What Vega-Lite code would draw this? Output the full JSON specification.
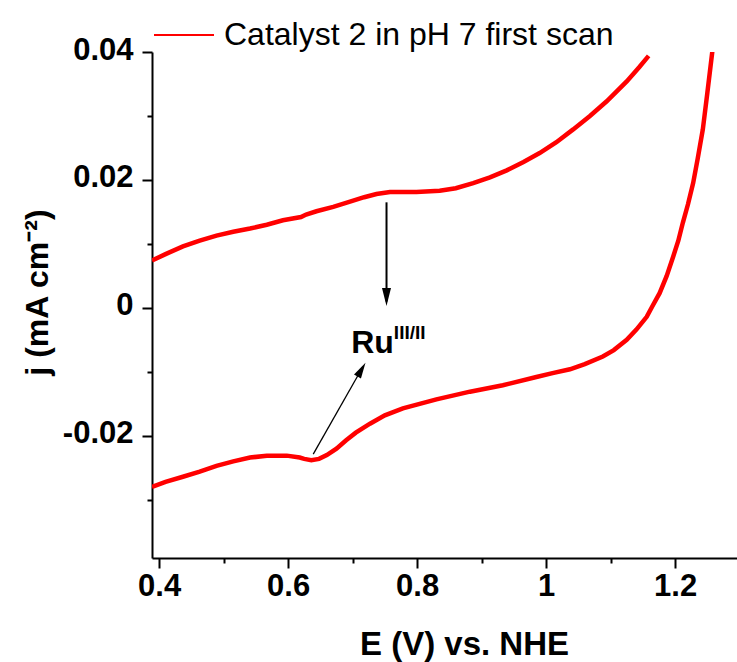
{
  "$schema": "https://vega.github.io/schema/vega-lite/v6.json",
  "width": 585,
  "height": 506,
  "autosize": {"type": "none"},
  "padding": {"left": 152, "top": 52, "right": 0, "bottom": 104},
  "background": "white",
  "config": {
    "view": {"stroke": null},
    "font": "Liberation Sans",
    "axis": {
      "grid": false,
      "domainColor": "black",
      "domainWidth": 2,
      "tickColor": "black",
      "tickWidth": 2,
      "labelFont": "Liberation Sans",
      "labelFontWeight": "bold",
      "labelFontSize": 31,
      "labelColor": "black",
      "labelOverlap": false,
      "labelFlush": false,
      "titleFont": "Liberation Sans",
      "titleFontWeight": "bold",
      "titleColor": "black"
    }
  },
  "datasets": {
    "curve": [
      {"b": "fwd", "E": 0.389, "j": 0.0074},
      {"b": "fwd", "E": 0.41, "j": 0.0084},
      {"b": "fwd", "E": 0.437, "j": 0.0096},
      {"b": "fwd", "E": 0.463, "j": 0.0105},
      {"b": "fwd", "E": 0.489, "j": 0.0113},
      {"b": "fwd", "E": 0.515, "j": 0.0119},
      {"b": "fwd", "E": 0.541, "j": 0.0124},
      {"b": "fwd", "E": 0.567, "j": 0.0130},
      {"b": "fwd", "E": 0.592, "j": 0.0137},
      {"b": "fwd", "E": 0.620, "j": 0.0142},
      {"b": "fwd", "E": 0.628, "j": 0.0146},
      {"b": "fwd", "E": 0.644, "j": 0.0151},
      {"b": "fwd", "E": 0.670, "j": 0.0158},
      {"b": "fwd", "E": 0.696, "j": 0.0166},
      {"b": "fwd", "E": 0.718, "j": 0.0173},
      {"b": "fwd", "E": 0.737, "j": 0.0178},
      {"b": "fwd", "E": 0.758, "j": 0.0181},
      {"b": "fwd", "E": 0.799, "j": 0.0181},
      {"b": "fwd", "E": 0.835, "j": 0.0183},
      {"b": "fwd", "E": 0.860, "j": 0.0187},
      {"b": "fwd", "E": 0.887, "j": 0.0195},
      {"b": "fwd", "E": 0.913, "j": 0.0204},
      {"b": "fwd", "E": 0.939, "j": 0.0215},
      {"b": "fwd", "E": 0.965, "j": 0.0228},
      {"b": "fwd", "E": 0.990, "j": 0.0242},
      {"b": "fwd", "E": 1.016, "j": 0.0259},
      {"b": "fwd", "E": 1.042, "j": 0.0279},
      {"b": "fwd", "E": 1.068, "j": 0.0300},
      {"b": "fwd", "E": 1.094, "j": 0.0323},
      {"b": "fwd", "E": 1.125, "j": 0.0354},
      {"b": "fwd", "E": 1.145, "j": 0.0377},
      {"b": "fwd", "E": 1.159, "j": 0.0394},
      {"b": "rev", "E": 1.258, "j": 0.0403},
      {"b": "rev", "E": 1.250, "j": 0.0336},
      {"b": "rev", "E": 1.243, "j": 0.0279},
      {"b": "rev", "E": 1.235, "j": 0.0233},
      {"b": "rev", "E": 1.228, "j": 0.0195},
      {"b": "rev", "E": 1.220, "j": 0.0162},
      {"b": "rev", "E": 1.212, "j": 0.0133},
      {"b": "rev", "E": 1.205, "j": 0.0105},
      {"b": "rev", "E": 1.197, "j": 0.0080},
      {"b": "rev", "E": 1.187, "j": 0.0050},
      {"b": "rev", "E": 1.176, "j": 0.0023},
      {"b": "rev", "E": 1.165, "j": 0.0003},
      {"b": "rev", "E": 1.156, "j": -0.0014},
      {"b": "rev", "E": 1.140, "j": -0.0034},
      {"b": "rev", "E": 1.125, "j": -0.0050},
      {"b": "rev", "E": 1.105, "j": -0.0066},
      {"b": "rev", "E": 1.088, "j": -0.0076},
      {"b": "rev", "E": 1.060, "j": -0.0088},
      {"b": "rev", "E": 1.037, "j": -0.0096},
      {"b": "rev", "E": 1.010, "j": -0.0102},
      {"b": "rev", "E": 0.985, "j": -0.0108},
      {"b": "rev", "E": 0.933, "j": -0.0121},
      {"b": "rev", "E": 0.882, "j": -0.0131},
      {"b": "rev", "E": 0.830, "j": -0.0143},
      {"b": "rev", "E": 0.778, "j": -0.0157},
      {"b": "rev", "E": 0.750, "j": -0.0168},
      {"b": "rev", "E": 0.727, "j": -0.0181},
      {"b": "rev", "E": 0.705, "j": -0.0195},
      {"b": "rev", "E": 0.690, "j": -0.0207},
      {"b": "rev", "E": 0.675, "j": -0.0220},
      {"b": "rev", "E": 0.660, "j": -0.0230},
      {"b": "rev", "E": 0.648, "j": -0.0236},
      {"b": "rev", "E": 0.636, "j": -0.0238},
      {"b": "rev", "E": 0.625, "j": -0.0236},
      {"b": "rev", "E": 0.618, "j": -0.0234},
      {"b": "rev", "E": 0.598, "j": -0.0231},
      {"b": "rev", "E": 0.567, "j": -0.0231},
      {"b": "rev", "E": 0.541, "j": -0.0234},
      {"b": "rev", "E": 0.515, "j": -0.0240},
      {"b": "rev", "E": 0.489, "j": -0.0247},
      {"b": "rev", "E": 0.463, "j": -0.0256},
      {"b": "rev", "E": 0.437, "j": -0.0264},
      {"b": "rev", "E": 0.410, "j": -0.0272},
      {"b": "rev", "E": 0.389, "j": -0.0280}
    ]
  },
  "layer": [
    {
      "data": {"name": "curve"},
      "mark": {"type": "line", "strokeWidth": 4.5, "clip": true},
      "encoding": {
        "x": {
          "field": "E",
          "type": "quantitative",
          "scale": {"domain": [0.389, 1.296], "nice": false, "zero": false},
          "axis": {
            "values": [0.4, 0.5, 0.6, 0.7, 0.8, 0.9, 1.0, 1.1, 1.2],
            "labelExpr": "round(datum.value*10)%2==0 ? format(datum.value,'~g') : ''",
            "tickSize": {"condition": {"test": "round(datum.value*10)%2==0", "value": 10}, "value": 5},
            "labelPadding": 3,
            "title": "E (V) vs. NHE",
            "titleFontSize": 33,
            "titleX": 312,
            "titleY": 96,
            "titleBaseline": "alphabetic"
          }
        },
        "y": {
          "field": "j",
          "type": "quantitative",
          "scale": {"domain": [-0.0391, 0.04], "nice": false, "zero": false},
          "axis": {
            "values": [-0.03, -0.02, -0.01, 0, 0.01, 0.02, 0.03, 0.04],
            "labelExpr": "abs(round(datum.value*100))%2==0 ? (datum.value<0 ? '-' + format(-datum.value,'~g') : format(datum.value,'~g')) : ''",
            "tickSize": {"condition": {"test": "abs(round(datum.value*100))%2==0", "value": 10}, "value": 5},
            "labelPadding": 9,
            "labelOffset": -2,
            "title": "j (mA cm⁻²)",
            "titleFontSize": 32,
            "titleAngle": -90,
            "titleX": -105,
            "titleY": 240,
            "titleBaseline": "alphabetic",
            "titleAlign": "center"
          }
        },
        "detail": {"field": "b"},
        "color": {
          "datum": "Catalyst 2 in pH 7 first scan",
          "type": "nominal",
          "scale": {"range": ["#ff0000"]},
          "legend": {
            "title": null,
            "orient": "none",
            "legendX": 1,
            "legendY": -48,
            "padding": 0,
            "symbolType": "stroke",
            "symbolSize": 3600,
            "symbolStrokeWidth": 2,
            "labelFont": "Liberation Sans",
            "labelFontSize": 32,
            "labelColor": "black",
            "labelOffset": 9,
            "labelLimit": 0
          }
        }
      }
    },
    {
      "data": {"values": [
        {"E": 0.7526, "j": 0.0165, "E2": 0.7526, "j2": 0.0010}
      ]},
      "mark": {"type": "rule", "color": "black", "strokeWidth": 2},
      "encoding": {
        "x": {"field": "E", "type": "quantitative"},
        "y": {"field": "j", "type": "quantitative"},
        "x2": {"field": "E2"},
        "y2": {"field": "j2"}
      }
    },
    {
      "data": {"values": [
        {"E": 0.639, "j": -0.02287, "E2": 0.716, "j2": -0.0092}
      ]},
      "mark": {"type": "rule", "color": "black", "strokeWidth": 1.3},
      "encoding": {
        "x": {"field": "E", "type": "quantitative"},
        "y": {"field": "j", "type": "quantitative"},
        "x2": {"field": "E2"},
        "y2": {"field": "j2"}
      }
    },
    {
      "data": {"values": [{"E": 0.7526, "j": 0.0003}]},
      "mark": {"type": "point", "shape": "M0,0L-0.25,1L0.25,1Z", "size": 1296, "angle": 180, "filled": true, "color": "black", "opacity": 1},
      "encoding": {
        "x": {"field": "E", "type": "quantitative"},
        "y": {"field": "j", "type": "quantitative"}
      }
    },
    {
      "data": {"values": [{"E": 0.720, "j": -0.00857}]},
      "mark": {"type": "point", "shape": "M0,0L-0.25,1L0.25,1Z", "size": 1024, "angle": 30, "filled": true, "color": "black", "opacity": 1},
      "encoding": {
        "x": {"field": "E", "type": "quantitative"},
        "y": {"field": "j", "type": "quantitative"}
      }
    },
    {
      "data": {"values": [{"E": 0.731, "j": -0.0070, "t": "Ru"}]},
      "mark": {"type": "text", "font": "Liberation Sans", "fontWeight": "bold", "fontSize": 32, "align": "center", "baseline": "alphabetic", "color": "black"},
      "encoding": {
        "x": {"field": "E", "type": "quantitative"},
        "y": {"field": "j", "type": "quantitative"},
        "text": {"field": "t"}
      }
    },
    {
      "data": {"values": [{"E": 0.764, "j": -0.0049, "t": "III/II"}]},
      "mark": {"type": "text", "font": "Liberation Sans", "fontWeight": "bold", "fontSize": 19, "align": "left", "baseline": "alphabetic", "color": "black"},
      "encoding": {
        "x": {"field": "E", "type": "quantitative"},
        "y": {"field": "j", "type": "quantitative"},
        "text": {"field": "t"}
      }
    }
  ]
}
